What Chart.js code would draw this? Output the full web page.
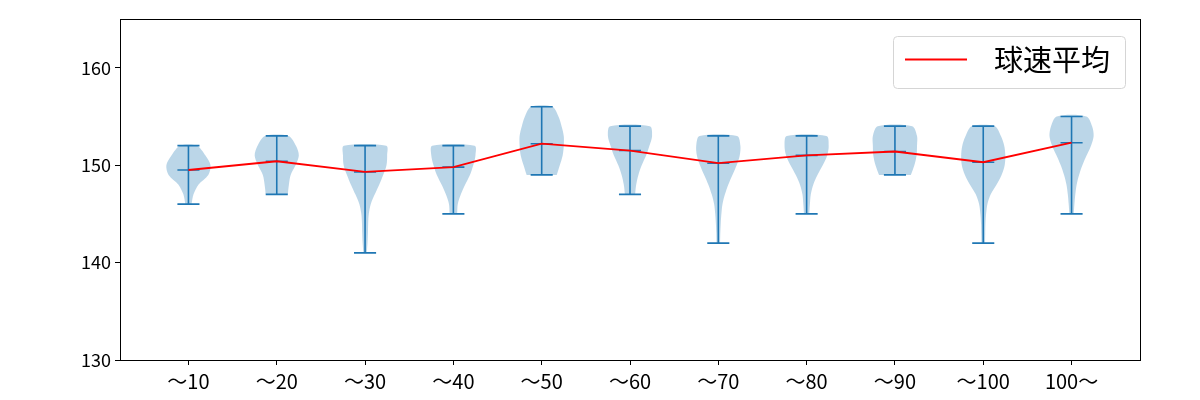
<!DOCTYPE html>
<html><head><meta charset="utf-8">
<script src="https://cdn.jsdelivr.net/npm/chart.js@4/dist/chart.umd.min.js"></script>
<style>html,body{margin:0;padding:0;background:#fff}#wrap{width:1200px;height:400px}</style>
</head><body><div id="wrap"><canvas id="c" width="1200" height="400"></canvas></div>
<script>
const categories = ['～10','～20','～30','～40','～50','～60','～70','～80','～90','～100','100～'];
const meanSpeed = [149.5,150.4,149.3,149.8,152.2,151.5,150.2,151.0,151.4,150.3,152.3];
const minSpeed = [146,147,141,145,149,147,142,145,149,142,145];
const maxSpeed = [152,153,152,152,156,154,153,153,154,154,155];
// relative violin width at each km/h from min to max (1 = widest)
const violinProfiles = [
  [0.14,0.23,0.45,0.9,1.0,0.77,0.38],
  [0.5,0.55,0.63,0.85,1.0,0.87,0.53],
  [0.08,0.11,0.13,0.14,0.17,0.26,0.44,0.64,0.82,0.97,1.0,0.96],
  [0.17,0.2,0.34,0.53,0.75,0.9,1.0,0.96],
  [0.68,0.82,0.95,1.0,1.0,0.9,0.76,0.48],
  [0.23,0.28,0.38,0.53,0.73,0.88,1.0,0.9],
  [0.08,0.09,0.11,0.14,0.19,0.3,0.45,0.64,0.83,0.97,1.0,0.85],
  [0.12,0.15,0.19,0.3,0.49,0.73,0.93,1.0,0.9],
  [0.72,0.88,0.98,1.0,1.0,0.78],
  [0.08,0.09,0.1,0.13,0.19,0.34,0.6,0.83,0.97,1.0,0.95,0.8,0.52],
  [0.1,0.13,0.17,0.23,0.34,0.49,0.68,0.88,1.0,0.93,0.67]
];
const yTicks = [130,140,150,160];
const yMin = 130, yMax = 165;

const FONT = "'Noto Sans CJK JP', 'Noto Sans', sans-serif";
const HALF = 0.25, CAP = 0.125;
const blue = '#1f77b4';

const datasets = [];
categories.forEach((cat, i) => {
  const pos = i + 1;
  const prof = violinProfiles[i];
  const lo = minSpeed[i];
  const right = prof.map((w, k) => ({x: pos + HALF * w, y: lo + k}));
  const left = prof.map((w, k) => ({x: pos - HALF * w, y: lo + k})).reverse();
  datasets.push({
    label: 'body ' + cat, data: right.concat(left), showLine: true, fill: 'shape',
    backgroundColor: 'rgba(31,119,180,0.3)', borderColor: 'rgba(0,0,0,0)', borderWidth: 0,
    pointRadius: 0, tension: 0.3, order: 3
  });
  const mx = maxSpeed[i], mn = minSpeed[i], me = meanSpeed[i];
  datasets.push({
    label: 'stats ' + cat,
    data: [
      {x: pos - CAP, y: mx}, {x: pos + CAP, y: mx}, {x: pos, y: null},
      {x: pos, y: mx}, {x: pos, y: mn}, {x: pos, y: null},
      {x: pos - CAP, y: mn}, {x: pos + CAP, y: mn}, {x: pos, y: null},
      {x: pos - CAP, y: me}, {x: pos + CAP, y: me}
    ],
    showLine: true, spanGaps: false, borderColor: blue, borderWidth: 1.6,
    pointRadius: 0, tension: 0, order: 2
  });
});
datasets.push({
  label: '球速平均', data: meanSpeed.map((m, i) => ({x: i + 1, y: m})),
  showLine: true, borderColor: 'red', backgroundColor: 'red', borderWidth: 1.8,
  pointRadius: 0, tension: 0, order: 1, fill: false
});

const framePlugin = {
  id: 'frame',
  afterLayout(chart) {
    const lg = chart.legend, ca = chart.chartArea;
    if (!lg) return;
    lg.left = ca.right - 245;
    lg.right = ca.right - 30;
    lg.width = lg.right - lg.left;
    lg.top = ca.top + 16;
    lg.bottom = lg.top + 52;
    lg.height = 52;
  },
  afterDraw(chart) {
    const ctx = chart.ctx, ca = chart.chartArea;
    ctx.save();
    ctx.strokeStyle = '#000';
    ctx.lineWidth = 1;
    ctx.strokeRect(Math.round(ca.left) + 0.5, Math.round(ca.top) + 0.5,
                   Math.round(ca.right - ca.left), Math.round(ca.bottom - ca.top));
    // legend frame
    const fx = Math.round(ca.right - 247) + 0.5, fy = Math.round(ca.top + 17) + 0.5;
    ctx.strokeStyle = '#d5d5d5';
    ctx.beginPath();
    ctx.roundRect(fx, fy, 232, 52, 4);
    ctx.stroke();
    ctx.restore();
  }
};

new Chart(document.getElementById('c'), {
  type: 'scatter',
  data: {datasets},
  options: {
    responsive: false,
    animation: false,
    devicePixelRatio: 1,
    layout: {padding: {top: 19, right: 60, left: 0, bottom: 0}},
    plugins: {
      tooltip: {enabled: false},
      legend: {
        position: 'chartArea',
        align: 'start',
        labels: {
          filter: (item) => item.text === '球速平均',
          usePointStyle: true,
          pointStyle: 'line',
          pointStyleWidth: 62,
          textAlign: 'right',
          color: '#000',
          font: {family: FONT, size: 29}
        }
      }
    },
    scales: {
      x: {
        type: 'linear', min: 0.225, max: 11.775,
        afterFit: (s) => { s.height = 40; },
        afterBuildTicks: (s) => { s.ticks = categories.map((c, i) => ({value: i + 1})); },
        border: {display: false},
        grid: {display: true, drawOnChartArea: false, drawTicks: true, tickLength: 5, tickColor: '#000', color: '#000'},
        ticks: {
          color: '#000', font: {family: FONT, size: 20}, padding: 4, maxRotation: 0, autoSkip: false,
          callback: (v) => categories[Math.round(v) - 1]
        }
      },
      y: {
        type: 'linear', min: yMin, max: yMax,
        afterFit: (s) => { s.width = 120; },
        afterBuildTicks: (s) => { s.ticks = yTicks.map(v => ({value: v})); },
        border: {display: false},
        grid: {display: true, drawOnChartArea: false, drawTicks: true, tickLength: 5, tickColor: '#000', color: '#000'},
        ticks: {color: '#000', font: {family: FONT, size: 18}, padding: 4}
      }
    }
  },
  plugins: [framePlugin]
});
</script>
</body></html>
